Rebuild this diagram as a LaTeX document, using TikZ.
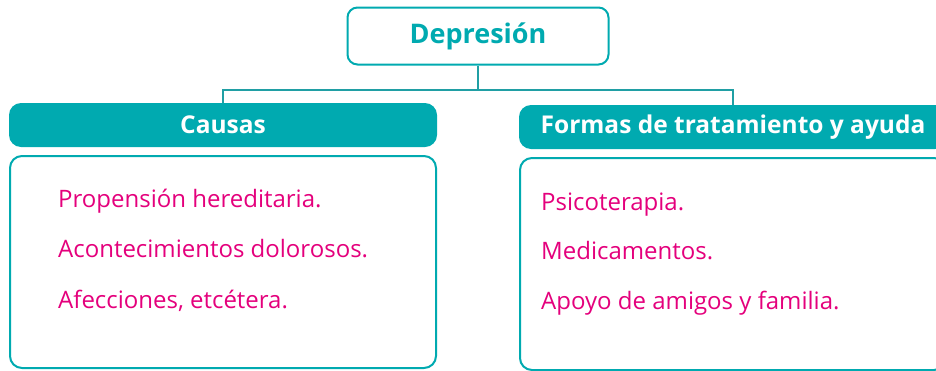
\documentclass[tikz,border=0pt]{standalone}
\usepackage{fontspec}
\setmainfont{Open Sans}
\usetikzlibrary{positioning}
\definecolor{verdeazul}{RGB}{0,170,176}
\definecolor{rosa}{RGB}{228,0,124}
\begin{document}
\begin{tikzpicture}[x=1pt, y=1pt]
	\tikzset{titulo/.style={draw=verdeazul, line width=2pt, rounded corners=10pt, fill=white, minimum width=261pt, minimum height=57pt, font=\fontsize{27}{32}\selectfont\bfseries, text=verdeazul},
		cabecera/.style={fill=verdeazul, rounded corners=12pt, minimum width=428pt, minimum height=44pt, font=\fontsize{24.5}{29}\selectfont\bfseries, text=white},
		caja/.style={draw=verdeazul, line width=2pt, rounded corners=12pt, minimum width=426pt, minimum height=212pt},
		item/.style={anchor=base west, inner sep=0pt, font=\fontsize{24}{29}\selectfont, text=rosa},
		enlace/.style={draw=verdeazul!75!gray, line width=2.5pt}};

	\useasboundingbox (0,0) rectangle (936,-370);
	\clip (0,0) rectangle (936,-370);

	\node[titulo] (dep) at (478,-36) {Depresión};

	\node[cabecera] (causas) at (223,-125) {Causas};
	\node[cabecera] (formas) at (733,-127) {Formas de tratamiento y ayuda};

	\node[caja] (cajacausas) at (223,-262) {};
	\node[caja] (cajaformas) at (733,-264) {};

	\node[item] (c1) at (58,-207) {Propensión hereditaria.};
	\node[item] (c2) at (58,-257) {Acontecimientos dolorosos.};
	\node[item] (c3) at (58,-308) {Afecciones, etcétera.};

	\node[item] (f1) at (541,-210) {Psicoterapia.};
	\node[item] (f2) at (541,-259) {Medicamentos.};
	\node[item] (f3) at (541,-309) {Apoyo de amigos y familia.};

	\coordinate (union) at (478,-90);
	\draw[enlace] (dep.south) -- (union);
	\draw[enlace] (union) -| (causas.north);
	\draw[enlace] (union) -| (formas.north);

\end{tikzpicture}
\end{document}
